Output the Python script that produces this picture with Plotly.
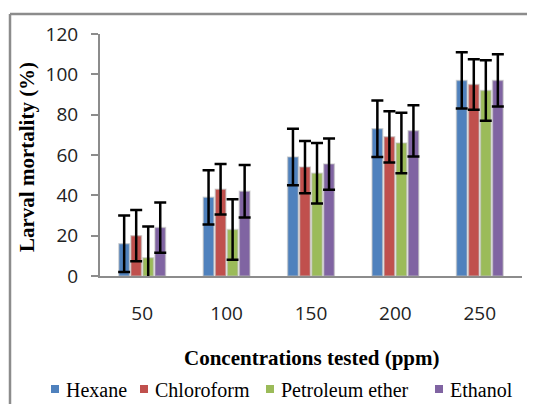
import plotly.graph_objects as go

categories = ["50", "100", "150", "200", "250"]
series_names = ["Hexane", "Chloroform", "Petroleum ether", "Ethanol"]
hexane = [16, 39, 59, 73, 97]
hexane_err = [14, 13.5, 14, 14, 14]
chloroform = [20, 43, 54, 69, 95]
chloroform_err = [12.7, 12.5, 13, 12.7, 12.5]
petroleum = [9, 23, 51, 66, 92]
petroleum_err = [15.5, 15, 15, 15, 15]
ethanol = [24, 42, 55.5, 72, 97]
ethanol_err = [12.5, 13, 12.7, 12.7, 13]
colors = ["#4F81BD", "#C0504D", "#9BBB59", "#8064A2"]
y_ticks = [0, 20, 40, 60, 80, 100, 120]

values = [hexane, chloroform, petroleum, ethanol]
errors = [hexane_err, chloroform_err, petroleum_err, ethanol_err]

SERIF = "Liberation Serif, Times New Roman, Times, serif"

# layout geometry (page pixels; the page body adds an 8px offset)
OFF = 8
W, H = 535 - OFF, 404 - OFF
ML, MT = 100 - OFF, 34 - OFF
PW, PH = 422, 242
MR, MB = W - ML - PW, H - MT - PH


def px_x(px):
    return (px - OFF - ML) / PW


def px_y(py):
    return (MT + PH - (py - OFF)) / PH


fig = go.Figure()
for name, vals, errs, col in zip(series_names, values, errors, colors):
    fig.add_trace(go.Bar(
        x=categories, y=vals, name=name, showlegend=False,
        marker=dict(color=col, line=dict(color="rgba(190,190,190,0.55)", width=1.5)),
        error_y=dict(type="data", array=errs, visible=True, color="black",
                     thickness=2.5, width=6),
    ))

# outer chart border: only the top and left edges are inside the picture
border = dict(color="#8c8c8c", width=2.5)
shapes = [
    dict(type="line", xref="paper", yref="paper",
         x0=px_x(10), x1=px_x(545), y0=px_y(14), y1=px_y(14), line=border, layer="below"),
    dict(type="line", xref="paper", yref="paper",
         x0=px_x(10), x1=px_x(10), y0=px_y(14), y1=px_y(410), line=border, layer="below"),
]

# manual legend (small squares + serif labels)
legend_marker_px = [51, 140, 266, 435]
legend_y_px = 389
annotations = []
for name, col, mx in zip(series_names, colors, legend_marker_px):
    shapes.append(dict(type="rect", xref="paper", yref="paper",
                       x0=px_x(mx), x1=px_x(mx + 8),
                       y0=px_y(legend_y_px + 4), y1=px_y(legend_y_px - 4),
                       line=dict(width=0), fillcolor=col))
    annotations.append(dict(text=name, xref="paper", yref="paper",
                            x=px_x(mx + 13), y=px_y(legend_y_px + 1),
                            xanchor="left", yanchor="middle", showarrow=False,
                            font=dict(family=SERIF, size=20, color="black")))

annotations.append(dict(text="<b>Concentrations tested (ppm)</b>", xref="paper", yref="paper",
                        x=0.5, y=px_y(358), xanchor="center", yanchor="middle",
                        showarrow=False,
                        font=dict(family=SERIF, size=21, color="black")))
annotations.append(dict(text="<b>Larval mortality (%)</b>", xref="paper", yref="paper",
                        x=px_x(27), y=px_y(157), xanchor="center", yanchor="middle",
                        textangle=-90, showarrow=False,
                        font=dict(family=SERIF, size=21, color="black")))

fig.update_layout(
    width=W, height=H,
    margin=dict(l=ML, r=MR, t=MT, b=MB),
    paper_bgcolor="white", plot_bgcolor="white",
    barmode="group", bargap=0.43, bargroupgap=0.12,
    font=dict(family="Open Sans", size=19, color="#222"),
    showlegend=False,
    xaxis=dict(
        type="category", showline=True, linecolor="#8c8c8c", linewidth=2,
        ticks="", showgrid=False, ticklabelstandoff=19, automargin=False,
    ),
    yaxis=dict(
        range=[0, 120], tickvals=y_ticks, showline=True, linecolor="#8c8c8c",
        linewidth=2, ticks="outside", ticklen=7, tickcolor="#8c8c8c", tickwidth=2,
        showgrid=False, zeroline=False, ticklabelstandoff=9, automargin=False,
    ),
    shapes=shapes,
    annotations=annotations,
)

fig.write_html("out.html", config={"displayModeBar": False})
